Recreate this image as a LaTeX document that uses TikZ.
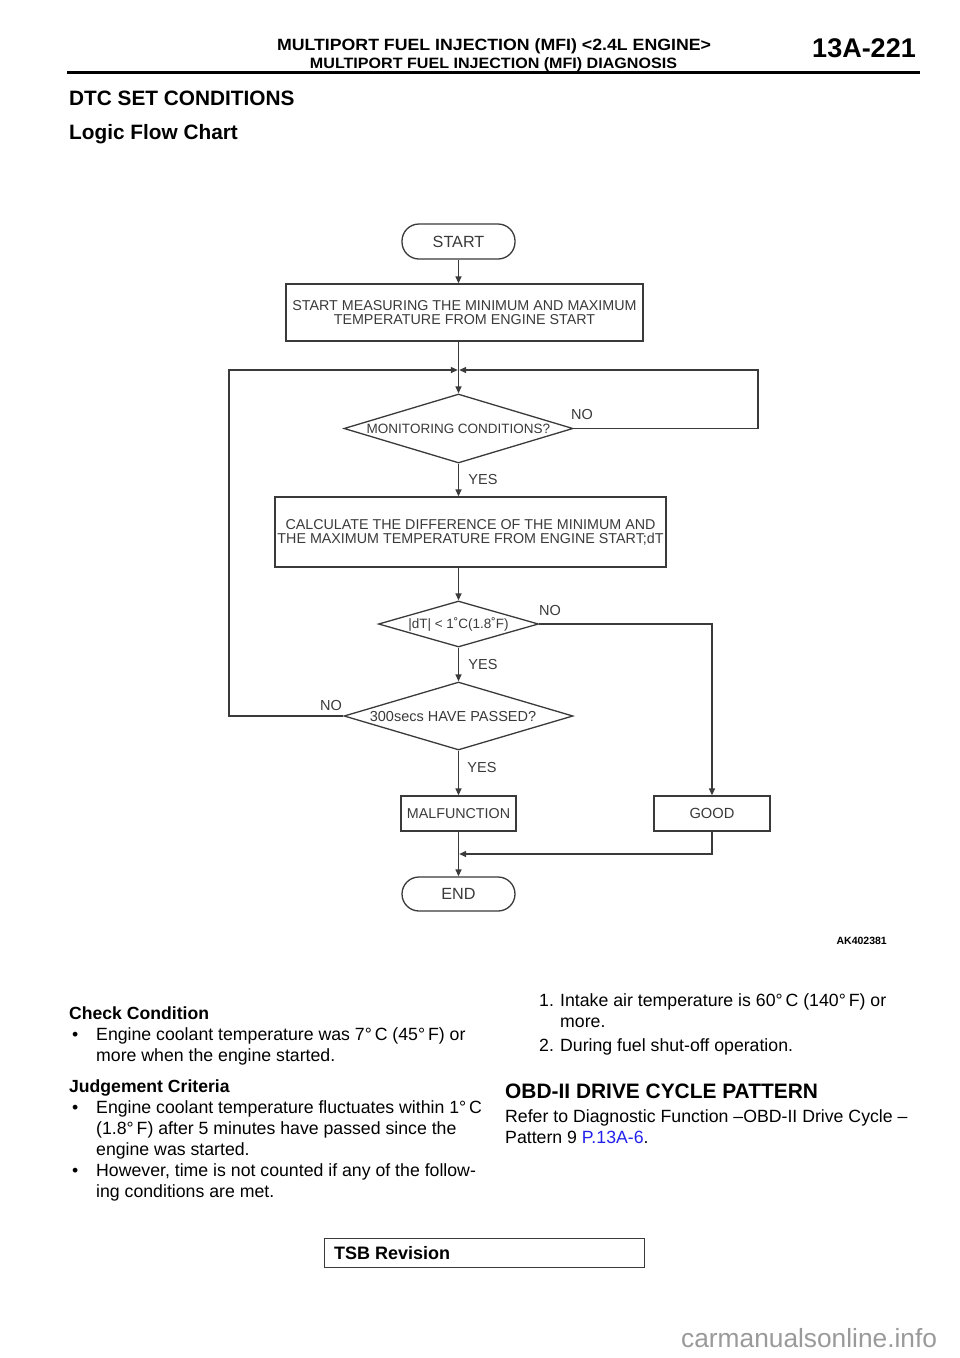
\documentclass[tikz,border=0pt]{standalone}
\usepackage{fontspec}
\setmainfont{Liberation Sans}
\usetikzlibrary{shapes.geometric,arrows.meta}
\definecolor{ln}{HTML}{3A3A3A}
\definecolor{lnk}{HTML}{2222EE}
\definecolor{wm}{HTML}{9A9A9A}
\tikzset{
  fc/.style={draw=ln, line width=1.3pt, text=ln, font=\fontsize{14.3}{14}\selectfont, inner sep=0pt},
  proc/.style={fc, rectangle, align=center},
  term/.style={fc, rectangle, rounded corners=17pt, font=\fontsize{16.2}{16}\selectfont},
  dec/.style={fc, diamond, font=\fontsize{13.5}{14}\selectfont},
  conn/.style={draw=ln, line width=1.3pt},
  arr/.style={conn, -{Triangle[length=7pt,width=6pt]}},
  lab/.style={text=ln, font=\fontsize{14.5}{14}\selectfont, inner sep=0pt},
  body/.style={anchor=base west, font=\fontsize{17.7}{17}\selectfont, inner sep=0pt},
  bodyb/.style={body, font=\fontsize{17.6}{17}\selectfont\bfseries},
}
\begin{document}
\begin{tikzpicture}[x=1pt,y=-1pt]
\useasboundingbox (0,0) rectangle (960,1358);
\fill[white] (0,0) rectangle (960,1358);

% header
\node[anchor=base, inner sep=0pt] (h1) at (494,50) {\resizebox{434pt}{\height}{\fontsize{16.3}{16}\selectfont\bfseries MULTIPORT FUEL INJECTION (MFI) <2.4L ENGINE>}};
\node[anchor=base, inner sep=0pt] (h2) at (493.5,68.5) {\resizebox{367pt}{\height}{\fontsize{15}{15}\selectfont\bfseries MULTIPORT FUEL INJECTION (MFI) DIAGNOSIS}};
\node[anchor=base east, inner sep=0pt] (pg) at (916,57.5) {\fontsize{27}{27}\selectfont\bfseries 13A-221};
\draw[line width=3pt] (67,72) -- (920,72);

\node[anchor=base west, inner sep=0pt] (t1) at (69,105) {\fontsize{20.8}{20}\selectfont\bfseries DTC SET CONDITIONS};
\node[anchor=base west, inner sep=0pt] (t2) at (69,139) {\fontsize{20.8}{20}\selectfont\bfseries Logic Flow Chart};

% flowchart nodes
\node[term, minimum width=113pt, minimum height=35pt] (start) at (458.5,241.5) {START};
\node[proc, minimum width=357pt, minimum height=57pt] (meas) at (464.5,312.5) {START MEASURING THE MINIMUM AND MAXIMUM\\TEMPERATURE FROM ENGINE START};
\coordinate (j1) at (458.5,370);
\coordinate (j1l) at (457.8,370);
\coordinate (j1r) at (459.2,370);
\coordinate (rloop) at (758,370);
\coordinate (lloop) at (229,370);
\node[dec, aspect=3.3, minimum width=229pt, minimum height=69pt] (mon) at (458.5,428.5) {MONITORING CONDITIONS?};
\node[proc, minimum width=391pt, minimum height=70pt] (calc) at (470.5,532) {CALCULATE THE DIFFERENCE OF THE MINIMUM AND\\THE MAXIMUM TEMPERATURE FROM ENGINE START;dT};
\node[dec, aspect=3.48, minimum width=160pt, minimum height=46pt] (dt) at (458.5,624) {|dT| < 1˚C(1.8˚F)};
\node[dec, aspect=3.37, minimum width=229pt, minimum height=68pt, font=\fontsize{14.5}{14}\selectfont] (pass) at (458.5,716) {300secs HAVE PASSED?\hspace*{11pt}};
\node[proc, minimum width=115pt, minimum height=35pt] (mal) at (458.5,813.5) {MALFUNCTION};
\node[proc, minimum width=116pt, minimum height=35pt, font=\fontsize{14.7}{14}\selectfont] (good) at (712,813.5) {GOOD};
\coordinate (j2r) at (459.2,854);
\node[term, minimum width=113pt, minimum height=34pt] (end) at (458.5,894) {END};

% connectors
\draw[arr] (start) -- (start |- meas.north);
\draw[arr] (meas.south -| mon.north) -- (mon.north);
\draw[arr] (mon.south) -- (mon.south |- calc.north);
\draw[arr] (calc.south -| dt.north) -- (dt.north);
\draw[arr] (dt) -- (pass);
\draw[arr] (pass) -- (mal);
\draw[arr] (mal) -- (end);
\draw[arr] (mon.east) -| (rloop) -- (j1r);
\draw[arr] (pass.west) -| (lloop) -- (j1l);
\draw[arr] (dt.east) -| (good.north);
\draw[arr] (good.south) |- (j2r);

% labels
\node[lab] (l1) at (582,415) {NO};
\node[lab] (l2) at (483,480) {YES};
\node[lab] (l3) at (550,610) {NO};
\node[lab] (l4) at (483,664) {YES};
\node[lab] (l5) at (331,705) {NO};
\node[lab] (l6) at (482,767) {YES};

\node[anchor=base east, inner sep=0pt] (ak) at (887,944) {\fontsize{10.5}{10}\selectfont\bfseries AK402381};

% left column text
\node[bodyb] (c0) at (69,1019) {Check Condition};
\node[body] (c1b) at (72,1040) {\textbullet};
\node[body] (c1) at (96,1040) {Engine coolant temperature was 7°\,C (45°\,F) or};
\node[body] (c2) at (96,1061) {more when the engine started.};
\node[bodyb] (j0) at (69,1092) {Judgement Criteria};
\node[body] (j1b) at (72,1113) {\textbullet};
\node[body] (jl1) at (96,1113) {Engine coolant temperature fluctuates within 1°\,C};
\node[body] (jl2) at (96,1134) {(1.8°\,F) after 5 minutes have passed since the};
\node[body] (jl3) at (96,1155) {engine was started.};
\node[body] (j2b) at (72,1176) {\textbullet};
\node[body] (jl4) at (96,1176) {However, time is not counted if any of the follow-};
\node[body] (jl5) at (96,1197) {ing conditions are met.};

% right column text
\node[body] (n1) at (539,1006) {1.};
\node[body] (r1) at (560,1006) {Intake air temperature is 60°\,C (140°\,F) or};
\node[body] (r2) at (560,1027) {more.};
\node[body] (n2) at (539,1051) {2.};
\node[body] (r3) at (560,1051) {During fuel shut-off operation.};
\node[anchor=base west, inner sep=0pt] (obd) at (505,1098) {\fontsize{20.9}{20}\selectfont\bfseries OBD-II DRIVE CYCLE PATTERN};
\node[body] (r4) at (505,1122) {Refer to Diagnostic Function –OBD-II Drive Cycle –};
\node[body] (r5) at (505,1143) {Pattern 9 \textcolor{lnk}{P.13A-6}.};

% footer
\node[draw=ln, line width=0.8pt, anchor=north west, minimum width=320pt, minimum height=29pt, inner sep=0pt] (tsb) at (324,1238) {};
\node[anchor=base west, inner sep=0pt] (tsbt) at (334,1259) {\fontsize{18}{18}\selectfont\bfseries TSB Revision};
\node[anchor=base west, inner sep=0pt, text=wm] (wmk) at (681,1347) {\fontsize{26.3}{26}\selectfont carmanualsonline.info};
\end{tikzpicture}
\end{document}
